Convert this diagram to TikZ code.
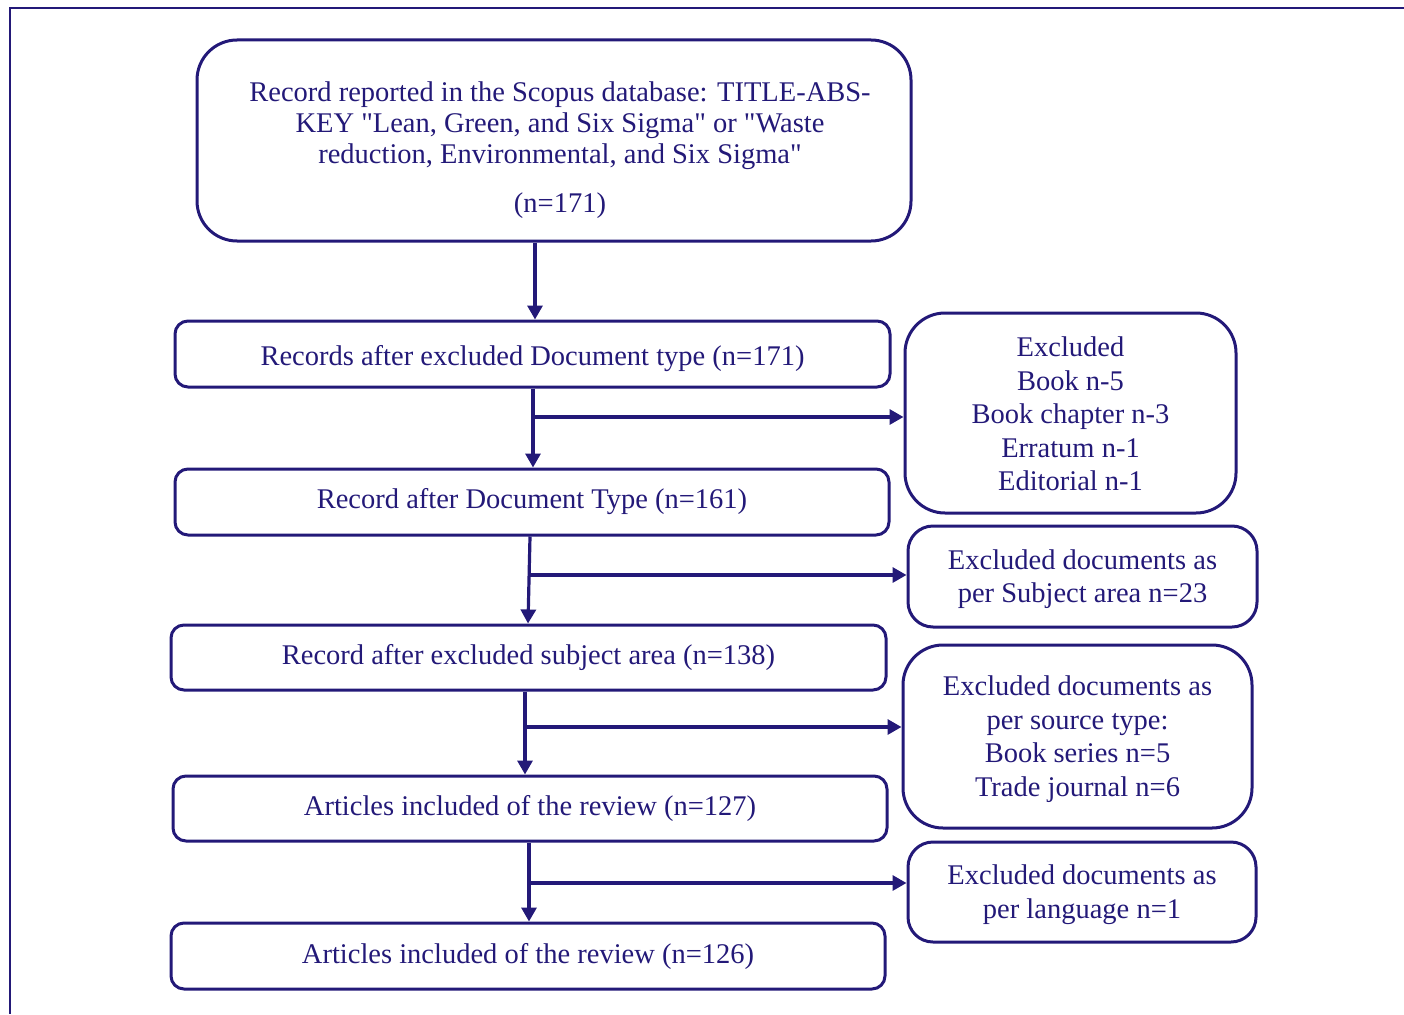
\documentclass[tikz,border=0pt]{standalone}
\usepackage{fontspec}
\setmainfont{Liberation Serif}[Ligatures=TeXOff]
\usetikzlibrary{arrows.meta}
\definecolor{navy}{RGB}{35,25,120}
\newcommand\bxtext[2]{\raisebox{#1}[\height][\depth]{\begin{tabular}{@{}c@{}}#2\end{tabular}}}
\begin{document}
\begin{tikzpicture}[x=1pt,y=-1pt,
  box/.style={draw=navy, line width=3pt, rounded corners=13pt, inner sep=0pt,
    text=navy, align=center, font=\fontsize{28.5}{33.5}\selectfont},
  bigr/.style={rounded corners=40pt},
  midr/.style={rounded corners=25pt},
  arr/.style={draw=navy, line width=3.2pt, -{Triangle[length=14pt,width=15pt]}},
  frame/.style={draw=navy, line width=2.5pt}]
\useasboundingbox (0,0) rectangle (1404,1014);
\coordinate (fa) at (1404,8);
\coordinate (fb) at (10,8);
\coordinate (fc) at (10,1014);
\draw[frame] (fa) -- (fb) -- (fc);

% main column
\node[box, bigr, minimum width=714pt, minimum height=201pt,
  font=\fontsize{28.5}{31}\selectfont] (b1) at (554,140.5)
  {\hspace*{12pt}\bxtext{-10pt}{Record reported in the Scopus database: TITLE-ABS-\\
   KEY "Lean, Green, and Six Sigma" or "Waste\\
   reduction, Environmental, and Six Sigma"\\[18pt]
   (n=171)}};
\node[box, minimum width=715pt, minimum height=66pt] (b2) at (532.5,354)
  {\raisebox{-5pt}[\height][\depth]{Records after excluded Document type (n=171)}};
\node[box, minimum width=714pt, minimum height=66pt] (b3) at (532,502)
  {Record after Document Type (n=161)};
\node[box, minimum width=715pt, minimum height=65pt] (b4) at (528.5,657.5)
  {Record after excluded subject area (n=138)};
\node[box, minimum width=714pt, minimum height=65pt] (b5) at (530,808.5)
  {Articles included of the review (n=127)};
\node[box, minimum width=714pt, minimum height=66pt] (b6) at (528,956)
  {Articles included of the review (n=126)};

% right column
\node[box, bigr, minimum width=331pt, minimum height=200pt] (r1) at (1070.5,413)
  {\bxtext{-4pt}{Excluded\\ Book n-5\\ Book chapter n-3\\ Erratum n-1\\ Editorial n-1}};
\node[box, midr, minimum width=349pt, minimum height=101pt] (r2) at (1082.5,576.5)
  {\bxtext{-3pt}{Excluded documents as\\ per Subject area n=23}};
\node[box, bigr, minimum width=349pt, minimum height=183pt] (r3) at (1077.5,736.5)
  {\bxtext{-3pt}{Excluded documents as\\ per source type:\\ Book series n=5\\ Trade journal n=6}};
\node[box, midr, minimum width=348pt, minimum height=100pt] (r4) at (1082,892)
  {\bxtext{-3pt}{Excluded documents as\\ per language n=1}};

% connectors
\coordinate (c1) at (535,0);
\draw[arr] (b1.south -| c1) -- (b2.north -| c1);

\coordinate (j2) at (533,417);
\draw[arr] (b2.south -| j2) -- (b3.north -| j2);
\draw[arr] (j2) -- (r1.west |- j2);

\coordinate (j3) at (530,575);
\coordinate (k3) at (528,0);
\draw[arr] (b3.south -| j3) -- (b4.north -| k3);
\draw[arr] (j3) -- (r2.west |- j3);

\coordinate (j4) at (525,727);
\draw[arr] (b4.south -| j4) -- (b5.north -| j4);
\draw[arr] (j4) -- (r3.west |- j4);

\coordinate (j5) at (529,883);
\draw[arr] (b5.south -| j5) -- (b6.north -| j5);
\draw[arr] (j5) -- (r4.west |- j5);
\end{tikzpicture}
\end{document}
